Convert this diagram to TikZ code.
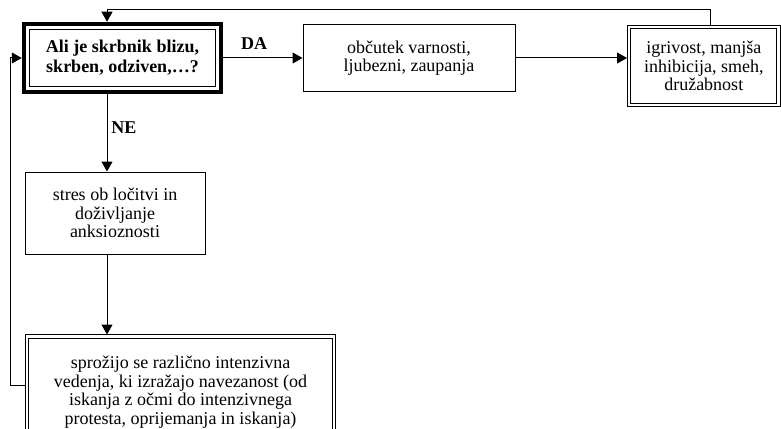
\documentclass[tikz,border=0pt]{standalone}
\usepackage{fontspec}
\setmainfont{Liberation Serif}
\usetikzlibrary{arrows.meta}
\begin{document}
\begin{tikzpicture}[x=1pt,y=-1pt,
  every node/.style={font=\fontsize{18}{18.5}\selectfont},
  plainbox/.style={draw, line width=1pt, align=center, inner sep=0pt, fill=white},
  dblbox/.style={draw, double, double distance=2.3pt, line width=0.9pt, align=center, inner sep=0pt, outer sep=2pt, fill=white},
  thickbox/.style={draw, line width=1pt, align=center, inner sep=0pt, fill=white, font=\fontsize{18}{20}\selectfont\bfseries},
  arr/.style={line width=1pt, -{Triangle[length=10pt,width=11pt]}},
  lbl/.style={font=\fontsize{18}{18.5}\selectfont\bfseries}]
\useasboundingbox (0,0) rectangle (781,428);
% boxes
\node[thickbox, minimum width=186pt, minimum height=57pt] (b1) at (122.5,58)
  {Ali je skrbnik blizu,\\ skrben, odziven,…?};
\draw[line width=4.5pt] ([shift={(-5pt,5pt)}]b1.north west) rectangle ([shift={(5pt,-5pt)}]b1.south east);
\node[plainbox, minimum width=212pt, minimum height=66pt] (b2) at (409,58)
  {občutek varnosti,\\ ljubezni, zaupanja};
\node[dblbox, minimum width=149.5pt, minimum height=78pt] (b3) at (703.75,66)
  {igrivost, manjša\\ inhibicija, smeh,\\ družabnost};
\node[plainbox, minimum width=180pt, minimum height=82pt] (b4) at (115,213)
  {stres ob ločitvi in\\ doživljanje\\ anksioznosti};
\node[dblbox, minimum width=307pt, minimum height=111pt] (b5) at (180.5,392)
  {sprožijo se različno intenzivna\\ vedenja, ki izražajo navezanost (od\\ iskanja z očmi do intenzivnega\\ protesta, oprijemanja in iskanja)};
% helper coordinates
\coordinate (vx) at (107,0);
\coordinate (ty) at (0,10);
\coordinate (tx) at (710,0);
\coordinate (lx) at (10,0);
\coordinate (ly) at (0,385);
% connectors
\draw[arr] (b3.north -| tx) -- (tx |- ty) -- (vx |- ty) -- ([yshift=7.25pt]b1.north -| vx);
\draw[arr] ([xshift=7.25pt]b1.east) -- (b2.west);
\draw[arr] (b2.east) -- (b2.east -| b3.west);
\draw[arr] ([yshift=-7.25pt]b1.south -| vx) -- (b4.north -| vx);
\draw[arr] (b4.south -| vx) -- (b5.north -| vx);
\draw[arr] (b5.west |- ly) -- (lx |- ly) -- (lx |- b1.west) -- ([xshift=-7.25pt]b1.west);
% labels
\node[lbl] (da) at (254,44) {DA};
\node[lbl] (ne) at (124,128) {NE};
\end{tikzpicture}
\end{document}
